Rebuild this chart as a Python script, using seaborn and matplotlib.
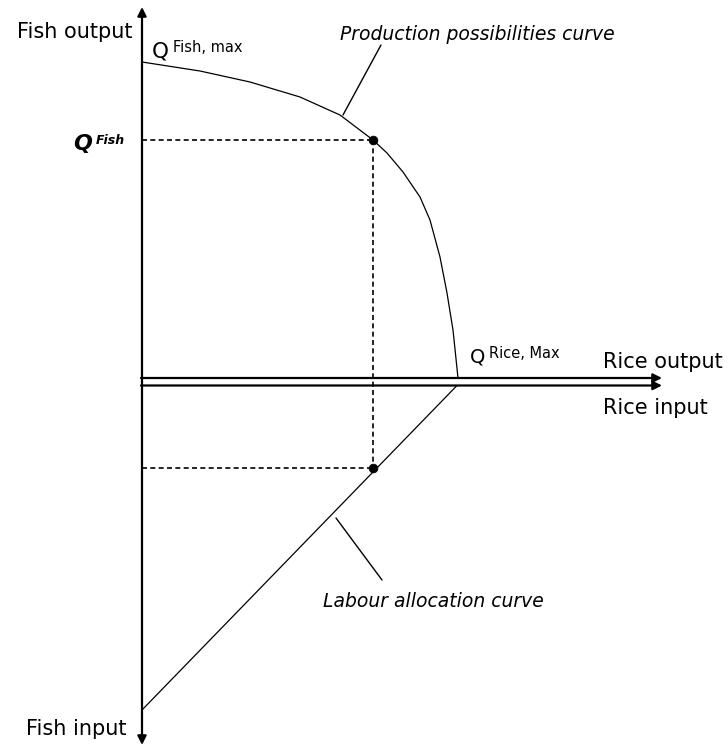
import matplotlib
matplotlib.use("Agg")
import matplotlib.pyplot as plt
import seaborn as sns
import pandas as pd

# production possibilities curve (rice output, fish output)
ppc_rice = [0, 0.58, 1.08, 1.58, 1.98, 2.31, 2.45, 2.61, 2.78, 2.88, 2.98, 3.05, 3.11, 3.16]
ppc_fish = [3.16, 3.07, 2.96, 2.81, 2.63, 2.38, 2.25, 2.06, 1.81, 1.58, 1.21, 0.85, 0.48, 0.0]

# labour allocation curve (rice input, fish input), drawn below the axis
lab_rice = [0, 3.15]
lab_fish = [-3.32, -0.075]

# chosen point
q_rice = 2.31
q_fish = 2.38
q_fish_input = -0.90

sns.set_style("white")
plt.rcParams["font.family"] = ["DejaVu Sans"]
plt.rcParams["text.color"] = "black"

fig = plt.figure(figsize=(7.28, 7.46), dpi=100)
ax = fig.add_axes([0, 0, 1, 1])
ax.set_xlim(-1.42, 5.86)
ax.set_ylim(-3.68, 3.78)
ax.axis("off")

ppc = pd.DataFrame({"rice": ppc_rice, "fish": ppc_fish})
lab = pd.DataFrame({"rice": lab_rice, "fish": lab_fish})
sns.lineplot(data=ppc, x="rice", y="fish", color="black", lw=0.9, sort=False, ax=ax)
sns.lineplot(data=lab, x="rice", y="fish", color="black", lw=0.9, sort=False, ax=ax)

# dashed guides
dash = dict(color="black", lw=1.2, ls=(0, (3, 2)))
ax.plot([0, q_rice], [q_fish, q_fish], **dash)
ax.plot([q_rice, q_rice], [q_fish, q_fish_input], **dash)
ax.plot([0, q_rice], [q_fish_input, q_fish_input], **dash)

pts = pd.DataFrame({"rice": [q_rice, q_rice], "fish": [q_fish, q_fish_input]})
sns.scatterplot(data=pts, x="rice", y="fish", color="black", s=40, edgecolor="black", zorder=5, ax=ax)

# axes with arrows
ax.annotate("", xy=(0, 3.71), xytext=(0, -3.67),
            arrowprops=dict(arrowstyle="<|-|>", lw=1.6, color="black",
                            mutation_scale=13, shrinkA=0, shrinkB=0))
for yy in [0, -0.075]:
    ax.annotate("", xy=(5.20, yy), xytext=(-0.01, yy),
                arrowprops=dict(arrowstyle="-|>", lw=1.6, color="black",
                                mutation_scale=13, shrinkA=0, shrinkB=0))

# labels
ax.text(-0.09, 3.40, "Fish output", ha="right", va="baseline", fontsize=15)
ax.text(-0.15, -3.57, "Fish input", ha="right", va="baseline", fontsize=15)
ax.text(4.61, 0.10, "Rice output", ha="left", va="baseline", fontsize=15)
ax.text(4.61, -0.36, "Rice input", ha="left", va="baseline", fontsize=15)

ax.text(0.10, 3.21, "Q", ha="left", va="baseline", fontsize=15.5)
ax.text(0.31, 3.26, "Fish, max", ha="left", va="baseline", fontsize=10.5)

ax.text(3.28, 0.15, "Q", ha="left", va="baseline", fontsize=14)
ax.text(3.47, 0.20, "Rice, Max", ha="left", va="baseline", fontsize=10.5)

ax.text(-0.69, 2.28, "Q", ha="left", va="baseline", fontsize=16,
        fontweight="bold", fontstyle="italic")
ax.text(-0.46, 2.34, "Fish", ha="left", va="baseline", fontsize=9,
        fontweight="bold", fontstyle="italic")

ax.text(1.98, 3.38, "Production possibilities curve", ha="left", va="baseline",
        fontsize=13.5, fontstyle="italic")
ax.text(1.81, -2.29, "Labour allocation curve", ha="left", va="baseline",
        fontsize=13.5, fontstyle="italic")

# leader lines
ax.plot([2.39, 2.01], [3.33, 2.63], color="black", lw=1.0)
ax.plot([1.94, 2.40], [-1.40, -2.02], color="black", lw=1.0)

fig.savefig("out.png", dpi=100)
